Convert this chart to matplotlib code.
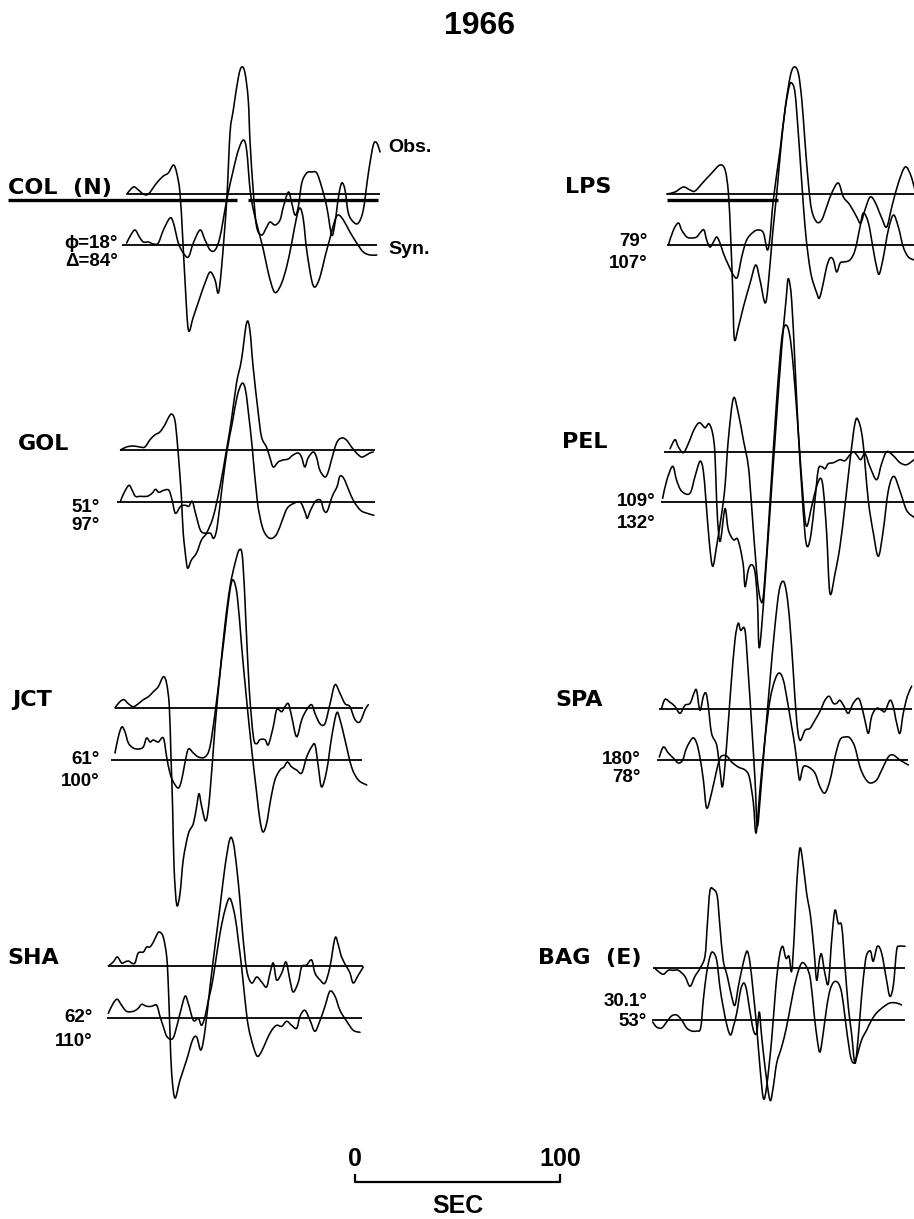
import matplotlib
matplotlib.use("Agg")
import matplotlib.pyplot as plt
from matplotlib.path import Path
from matplotlib.patches import PathPatch

# ---------------- data: time (s) and amplitude (relative units) ----------------
col_obs_t = [0, 3.3, 5.7, 8.1, 10.6, 14.6, 17.9, 20.3, 22.8, 24.4, 26.0, 27.3, 28.5, 30.1, 32.5, 35.8, 38.2, 40.7, 43.1, 44.7,
             46.3, 48.8, 50.4, 52.0, 54.5, 56.1, 57.7, 59.3, 60.2, 61.8, 63.4, 65.9, 68.3, 69.9, 72.4, 74.8, 76.4, 78.9, 80.5,
             82.1, 83.7, 85.4, 87.8, 90.2, 92.7, 95.1, 97.6, 100, 101.6, 103.3, 104.9, 106.5, 108.1, 110.6, 113.0, 115.4,
             117.9, 120.3, 122.0, 123.6]
col_obs_a = [0, 7, 4, 0, 0, 11, 18, 21, 29, 21, 1, -43, -89, -136, -123, -103, -89, -78, -86, -99,
             -73, -6, 61, 84, 117, 127, 121, 94, 51, 1, -33, -41, -33, -28, -31, -26, -13, 2, -9,
             -21, -13, 11, 21, 22, 21, 7, -13, -41, -29, -3, 11, 4, -19, -28, -29, -16,
             21, 49, 51, 42]
col_syn_t = [0, 2.0, 4.1, 6.2, 8.1, 10.6, 13.0, 15.4, 17.9, 21.1, 22.8, 25.2, 27.6, 30.1, 32.5, 35.8, 38.2, 40.7, 43.1,
             45.5, 48.8, 52.0, 54.5, 56.9, 58.5, 60.2, 61.8, 64.2, 66.7, 69.1, 71.5, 73.2, 75.6, 78.0, 80.5, 82.9, 84.6,
             86.2, 87.8, 90.2, 91.9, 94.3, 96.7, 99.2, 101.6, 103.3, 105.7, 108.9, 112.2, 115.4, 118.7, 122.0]
col_syn_a = [2, 10, 15, 8, 3, 3, 1, 2, 15, 27, 22, 2, -8, -12, 2, 15, 5, -5, -5,
             8, 45, 75, 95, 105, 95, 55, 35, 15, -5, -28, -45, -47, -38, -22, 2, 28, 37,
             25, -5, -35, -42, -32, -12, 7, 25, 30, 25, 13, 2, -7, -10, -10]

gol_obs_t = [0, 2.9, 6.2, 9.4, 11.9, 14.3, 16.7, 19.2, 21.6, 23.3, 24.9, 26.5, 27.6, 28.9, 29.8, 30.6, 32.2, 33.0, 34.6,
             37.1, 39.5, 42.0, 45.2, 48.5, 51.7, 54.1, 56.6, 59.0, 61.5, 63.1, 64.7, 67.2, 68.8, 71.2, 72.8, 74.5, 76.9,
             79.3, 81.8, 84.2, 86.7, 88.3, 89.9, 91.5, 94.0, 95.6, 97.2, 99.7, 101.3, 102.9, 105.4, 107.8, 110.2, 112.7,
             115.1, 117.6, 120.0, 121.6, 123.3]
gol_obs_a = [0, 3, 4, 3, 3, 10, 15, 18, 25, 32, 36, 30, 10, -23, -50, -83, -113, -118, -110,
             -103, -90, -83, -67, -37, 0, 30, 67, 90, 127, 120, 83, 37, 13, 3, -7, -17, -12,
             -10, -9, -5, -3, -7, -17, -8, -2, -7, -20, -27, -22, -10, 7, 12, 10, 3,
             -3, -7, -5, -3, -2]
gol_syn_t = [0, 1.6, 4.1, 5.7, 7.3, 9.8, 13.0, 15.4, 17.1, 18.7, 21.1, 23.6, 25.2, 26.8, 29.3, 31.7, 33.3, 35.0, 36.6,
             39.0, 41.5, 43.9, 45.5, 47.2, 49.6, 52.0, 54.5, 56.9, 59.3, 61.0, 62.6, 64.2, 66.7, 69.1, 71.5, 74.0, 76.4,
             78.9, 81.3, 84.6, 87.8, 90.2, 91.1, 92.7, 95.1, 97.6, 99.2, 100.8, 103.3, 105.7, 107.0, 108.9, 111.4, 113.8,
             117.1, 120.3, 123.6]
gol_syn_a = [1, 9, 17, 12, 6, 6, 6, 9, 13, 10, 12, 12, 2, -11, -4, -3, -4, 1, -11,
             -28, -31, -31, -36, -24, 16, 52, 79, 106, 119, 112, 86, 56, 2, -24, -34, -36, -31,
             -18, -6, -1, 0, -11, -16, -8, 1, 2, -8, -9, 6, 16, 26, 24, 12, 1,
             -8, -11, -13]

jct_obs_t = [0, 2.4, 4.4, 6.5, 8.9, 11.4, 13.8, 16.3, 18.7, 21.1, 23.6, 25.2, 26.5, 27.3, 28.1, 28.8, 30.1, 31.7, 33.3,
             35.8, 38.2, 39.8, 41.0, 42.3, 44.4, 46.3, 48.8, 51.2, 53.7, 56.1, 58.5, 60.7, 62.3, 63.9, 65.5, 67.5, 69.1,
             70.7, 73.2, 74.8, 77.2, 78.9, 81.3, 82.9, 84.6, 86.2, 88.6, 91.1, 93.5, 95.9, 97.6, 100.0, 102.4, 104.9,
             107.3, 109.8, 112.2, 114.6, 117.1, 119.5, 122.0, 123.6]
jct_obs_a = [0, 6, 8, 4, 1, 4, 8, 11, 16, 21, 31, 24, 1, -49, -99, -159, -197, -186, -152,
             -126, -116, -99, -86, -99, -113, -86, -19, 34, 84, 121, 144, 158, 148, 84, 18, -29, -36,
             -32, -32, -37, -19, -2, -4, 1, 4, -9, -29, -12, -2, 3, -6, -16, -16, 4,
             23, 14, 4, 1, -12, -14, -2, 3]
jct_syn_t = [0, 1.6, 3.3, 4.9, 6.5, 8.9, 11.4, 13.8, 15.4, 17.1, 18.7, 21.1, 23.6, 25.2, 26.8, 28.5, 30.9, 32.5, 34.1,
             35.8, 38.2, 40.7, 43.9, 46.3, 48.8, 51.2, 53.7, 56.1, 57.7, 59.7, 61.8, 64.2, 66.7, 69.1, 70.7, 72.2, 74.0,
             75.9, 78.0, 80.5, 82.4, 84.1, 86.2, 88.6, 91.1, 93.5, 95.9, 97.6, 99.2, 100.8, 103.3, 105.7, 108.1, 109.8,
             112.2, 115.4, 118.7, 122.8]
jct_syn_a = [7, 23, 33, 28, 17, 12, 11, 13, 22, 18, 20, 18, 22, 3, -13, -22, -28, -20, -3,
             11, 7, 3, 3, 13, 47, 87, 130, 170, 180, 163, 113, 60, 10, -33, -60, -72, -63,
             -40, -20, -10, -7, -2, -7, -10, -13, 3, 13, 15, -7, -27, -10, 23, 47, 40,
             20, -7, -20, -25]

sha_obs_t = [0, 2.4, 4.4, 6.5, 8.1, 9.8, 11.4, 13.0, 14.6, 17.1, 18.7, 20.3, 22.0, 23.6, 24.9, 26.8, 28.5, 29.3, 30.1,
             30.9, 32.5, 35.0, 38.2, 41.1, 43.1, 45.2, 47.2, 49.6, 52.0, 54.5, 56.9, 59.3, 61.0, 62.6, 64.2, 65.5, 67.5,
             69.9, 72.4, 74.8, 77.2, 78.9, 80.5, 82.1, 84.6, 86.7, 88.6, 90.2, 92.7, 94.3, 96.7, 99.2, 100.8, 103.3,
             105.7, 108.1, 110.6, 112.2, 113.8, 116.3, 117.9, 119.5, 122.0, 124.4]
sha_obs_a = [0, 4, 9, 3, 4, 5, 3, 3, 13, 14, 19, 19, 24, 31, 34, 29, 9, -21, -67,
             -107, -132, -114, -94, -74, -71, -84, -64, -21, 19, 59, 99, 127, 123, 99, 66, 33, -4,
             -17, -11, -16, -21, -7, 3, -14, -7, 4, -14, -26, -16, -1, 1, 6, -7, -14,
             -17, -1, 28, 21, 9, -1, -7, -17, -9, -1]
sha_syn_t = [0, 2.4, 4.4, 6.5, 8.9, 12.2, 14.6, 16.3, 18.7, 21.1, 23.6, 25.2, 26.8, 28.5, 30.9, 32.5, 35.0, 37.4, 39.0,
             41.5, 43.9, 45.5, 47.2, 48.8, 50.4, 52.0, 54.5, 56.9, 59.3, 61.8, 63.4, 65.0, 66.7, 68.3, 70.7, 72.7, 74.8,
             77.2, 79.7, 82.1, 84.6, 87.0, 89.4, 91.9, 93.5, 95.9, 98.4, 100.8, 103.3, 105.7, 108.1, 110.6, 113.0, 116.3,
             119.5, 122.8]
sha_syn_a = [5, 15, 19, 13, 7, 7, 10, 14, 12, 12, 13, 2, -8, -18, -21, -15, 5, 22, 15,
             -2, 0, -7, 2, 18, 32, 52, 85, 108, 120, 102, 78, 52, 18, -8, -28, -38, -33,
             -22, -12, -7, -8, -3, -7, -10, 2, 8, -2, -13, -2, 12, 27, 22, 8, -3,
             -12, -14]

lps_obs_t = [0, 4.1, 8.1, 11.4, 13.8, 17.9, 22.0, 26.0, 28.5, 30.1, 31.2, 32.2, 33.0, 35.0, 37.4, 40.7, 43.4, 45.5, 48.0,
             49.6, 51.7, 53.7, 55.6, 57.7, 60.2, 62.1, 64.2, 65.9, 67.5, 69.1, 70.7, 73.2, 75.6, 78.0, 80.5, 83.7, 86.2,
             89.4, 92.7, 94.6, 96.7, 99.2, 101.6, 104.9, 107.3, 109.8, 113.0, 116.3, 119.0, 121.1]
lps_obs_a = [0, 2, 7, 4, 3, 12, 21, 29, 24, 1, -43, -96, -145, -133, -113, -89, -71, -86, -109,
             -89, -39, 1, 44, 84, 117, 127, 121, 94, 51, 11, -16, -28, -26, -13, 1, 11, -3,
             -11, -23, -29, -16, -3, -8, -24, -33, -13, 11, 27, 19, 4]
lps_syn_t = [0.8, 3.3, 5.7, 7.3, 9.8, 12.2, 14.6, 16.6, 18.2, 19.5, 21.1, 22.8, 24.4, 26.0, 27.6, 30.1, 32.5, 34.5, 36.6,
             39.0, 42.3, 44.7, 47.2, 49.1, 50.4, 52.0, 55.3, 57.7, 59.7, 61.0, 62.6, 64.2, 65.9, 67.5, 69.1, 70.7, 73.2,
             74.5, 76.4, 78.0, 79.7, 81.3, 82.9, 84.6, 86.2, 89.4, 91.9, 94.3, 95.9, 98.4, 100.8, 102.4, 103.7, 105.7,
             108.1, 110.6, 113.0, 115.4, 117.9, 120.7]
lps_syn_a = [0, 15, 22, 15, 8, 7, 8, 13, 15, 5, -2, 3, 8, 2, -8, -20, -30, -32, -12,
             5, 13, 15, 12, -5, 8, 45, 95, 135, 158, 162, 152, 112, 62, 18, -12, -32, -48,
             -53, -38, -22, -13, -15, -27, -18, -17, -15, -5, 18, 32, 22, -5, -22, -29, -12,
             15, 30, 18, -2, -12, -15]

pel_obs_t = [4.9, 7.3, 8.9, 11.4, 13.8, 16.6, 19.2, 22.0, 23.9, 25.7, 26.8, 27.6, 28.6, 29.6, 31.7, 33.3, 35.8, 37.7, 39.3,
             40.7, 41.5, 43.1, 44.7, 46.3, 47.5, 48.3, 49.6, 52.0, 54.5, 56.9, 59.3, 61.5, 62.6, 64.2, 65.9, 67.5, 69.1,
             70.7, 72.0, 73.7, 75.6, 77.2, 78.9, 80.5, 82.1, 84.6, 87.8, 90.2, 92.7, 94.3, 95.9, 97.9, 100.0, 102.4,
             105.7, 108.1, 110.6, 113.8, 117.1, 120.3, 123.9]
pel_obs_a = [3, 12, 5, -1, 8, 22, 29, 24, 28, 18, -2, -48, -82, -88, -57, -78, -88, -87, -98,
             -115, -135, -118, -113, -120, -148, -195, -175, -108, -35, 35, 102, 152, 173, 152, 85, 18, -35,
             -82, -95, -82, -48, -18, -15, -17, -12, -11, -8, -9, -3, 0, -3, -8, -2, -15,
             -28, -12, 0, -4, -11, -13, -8]
pel_syn_t = [1.3, 3.3, 6.2, 8.1, 10.6, 14.6, 17.1, 19.5, 21.1, 22.4, 24.1, 25.7, 27.6, 30.1, 31.7, 33.3, 35.8, 38.2, 40.7,
             43.1, 44.7, 47.2, 49.1, 50.7, 53.7, 56.9, 59.3, 61.1, 63.1, 65.0, 67.5, 69.9, 71.5, 74.0, 76.4, 78.4, 79.7,
             81.3, 82.9, 85.4, 87.8, 90.2, 92.7, 95.1, 96.7, 98.9, 101.6, 104.1, 106.5, 108.9, 111.4, 114.1, 117.1, 120.3,
             123.9]
pel_syn_a = [4, 22, 36, 22, 11, 9, 26, 41, 32, 2, -41, -64, -44, -11, 16, 62, 104, 89, 62,
             36, -4, -71, -98, -88, 2, 102, 162, 177, 169, 136, 69, 2, -24, -4, 16, 24, 12,
             -31, -91, -71, -44, -4, 42, 79, 82, 62, 2, -31, -54, -28, 12, 26, 11, -8,
             -15]

spa_obs_t = [1.1, 2.8, 5.2, 7.6, 10.1, 12.5, 15.0, 16.9, 18.2, 19.8, 21.5, 22.8, 23.9, 25.5, 28.0, 29.6, 30.9, 32.8, 34.8,
             36.9, 38.5, 39.7, 41.8, 43.4, 45.0, 46.7, 47.8, 49.4, 51.5, 54.0, 56.4, 58.5, 60.5, 62.1, 63.7, 65.4, 67.0,
             68.6, 71.1, 73.5, 75.9, 78.4, 80.8, 82.9, 84.9, 86.5, 88.1, 90.1, 92.2, 94.6, 97.1, 98.7, 100.3, 102.0,
             103.6, 106.0, 108.5, 110.1, 112.5, 114.1, 115.8, 117.4, 119.0, 121.0, 123.1]
spa_obs_a = [1, 10, 7, 3, -4, 4, 6, 16, 19, -1, 13, 16, 3, -24, -36, -61, -77, -37, 19,
             69, 86, 79, 79, 36, -14, -71, -117, -84, -31, 29, 83, 119, 128, 116, 86, 36, -11,
             -31, -21, -19, -11, -2, 9, 13, 6, 6, 9, 3, -4, 6, 11, 3, -11, -24,
             -7, 1, -1, -2, 9, 3, -14, -24, -4, 13, 23]
spa_syn_t = [0, 2.0, 4.4, 6.8, 9.3, 11.4, 13.3, 16.3, 18.2, 19.8, 21.5, 23.1, 25.5, 28.0, 29.9, 32.8, 35.3, 38.5, 41.8,
             43.9, 45.9, 47.2, 49.1, 51.5, 54.0, 56.4, 58.5, 60.5, 62.4, 64.6, 66.2, 67.8, 68.6, 70.2, 72.7, 75.9, 78.4,
             80.8, 83.3, 85.7, 88.1, 90.6, 93.0, 95.4, 97.9, 100.3, 102.8, 106.0, 108.5, 111.7, 114.1, 117.4, 121.5]
spa_syn_a = [3, 13, 7, 2, -3, 0, 12, 22, 17, 3, -20, -48, -33, -10, 3, 4, -2, -7, -10,
             -17, -43, -73, -30, 20, 60, 80, 87, 80, 60, 33, 13, -13, -20, -7, -7, -13, -27,
             -33, -20, 3, 20, 23, 22, 13, -7, -18, -23, -20, -10, 3, 5, 0, -5]

bag_obs_t = [0.8, 2.4, 4.9, 7.3, 9.8, 12.2, 15.4, 17.9, 20.3, 22.8, 25.2, 26.3, 27.6, 29.3, 31.2, 32.5, 34.1, 36.1, 38.2,
             39.8, 41.5, 43.1, 44.7, 45.9, 47.2, 48.8, 50.4, 52.0, 53.7, 55.3, 57.7, 59.8, 61.5, 63.1, 64.7, 66.2, 67.5,
             68.8, 69.9, 71.5, 73.2, 74.8, 76.7, 78.4, 79.7, 81.0, 82.1, 83.7, 85.4, 87.0, 88.6, 90.2, 91.9, 93.5, 95.1,
             96.7, 98.4, 100.0, 101.6, 103.3, 104.4, 106.0, 107.3, 109.3, 111.4, 113.8, 115.4, 117.1, 118.7, 120.0, 122.8]
bag_obs_a = [0, -3, -6, -2, -2, -2, -8, -18, -8, 0, 12, 42, 77, 79, 72, 42, 8, -8, -28,
             -37, -18, -2, 12, 17, 5, -25, -58, -98, -130, -118, -72, -18, 12, 22, 10, 12, -3,
             35, 82, 120, 102, 75, 52, 18, -12, 8, 14, -5, -15, 28, 58, 45, 42, 2, -38,
             -65, -95, -68, -28, 5, 15, 17, 7, 22, 15, -12, -28, -17, 18, 22, 22]
bag_syn_t = [-0.3, 1.6, 4.1, 6.5, 8.9, 11.4, 13.8, 16.3, 18.7, 21.1, 23.1, 24.4, 26.0, 27.6, 28.9, 30.9, 32.5, 34.1, 36.1,
             37.7, 39.0, 40.7, 42.6, 44.2, 45.5, 46.8, 48.8, 50.4, 51.7, 52.7, 54.5, 56.9, 58.5, 60.2, 62.6, 65.0, 67.5,
             69.9, 72.4, 74.8, 76.7, 78.4, 80.0, 81.3, 82.9, 84.6, 86.2, 88.1, 90.2, 91.9, 93.5, 95.9, 97.6, 99.2, 101.6,
             104.1, 106.5, 108.9, 112.2, 115.4, 118.7, 121.1]
bag_syn_a = [-2, -7, -8, -2, 4, 5, 0, -8, -11, -11, -8, 20, 47, 63, 68, 60, 33, 13, -7,
             -15, -7, 7, 30, 37, 30, 13, -10, -13, 8, -13, -47, -80, -67, -43, -27, -7, 20,
             43, 57, 53, 40, 7, -20, -32, -13, 13, 30, 38, 37, 27, 3, -33, -43, -37, -20,
             -10, 0, 7, 13, 17, 17, 15]

stations = ["COL  (N)", "GOL", "JCT", "SHA", "LPS", "PEL", "SPA", "BAG  (E)"]
azimuths = ["\u03d5=18\u00b0", "51\u00b0", "61\u00b0", "62\u00b0", "79\u00b0", "109\u00b0", "180\u00b0", "30.1\u00b0"]
distances = ["\u0394=84\u00b0", "97\u00b0", "100\u00b0", "110\u00b0", "107\u00b0", "132\u00b0", "78\u00b0", "53\u00b0"]
title_text = "1966"
scale_seconds = [0, 100]
scale_unit = "SEC"

obs_t = [col_obs_t, gol_obs_t, jct_obs_t, sha_obs_t, lps_obs_t, pel_obs_t, spa_obs_t, bag_obs_t]
obs_a = [col_obs_a, gol_obs_a, jct_obs_a, sha_obs_a, lps_obs_a, pel_obs_a, spa_obs_a, bag_obs_a]
syn_t = [col_syn_t, gol_syn_t, jct_syn_t, sha_syn_t, lps_syn_t, pel_syn_t, spa_syn_t, bag_syn_t]
syn_a = [col_syn_a, gol_syn_a, jct_syn_a, sha_syn_a, lps_syn_a, pel_syn_a, spa_syn_a, bag_syn_a]

# ---------------- layout (pixel space) ----------------
W, H = 914, 1219
PX_PER_SEC = 2.05
layout = [
    dict(x0=126.7, yo=194.0, ys=245.0, lo=(126.7, 380), ls=(121.7, 377), lab=(8, 188), ang=(118, 244, 262)),
    dict(x0=120.5, yo=450.0, ys=502.3, lo=(120, 375), ls=(117, 375), lab=(18, 444), ang=(100, 507, 526)),
    dict(x0=115.0, yo=707.7, ys=760.0, lo=(115, 363), ls=(111, 362), lab=(12, 700), ang=(100, 759, 781)),
    dict(x0=108.3, yo=966.0, ys=1018.3, lo=(108, 363), ls=(107, 362), lab=(7, 958), ang=(93, 1017, 1041)),
    dict(x0=666.7, yo=194.0, ys=245.0, lo=(666.7, 914), ls=(666.7, 914), lab=(565, 187), ang=(647, 242, 264)),
    dict(x0=660.0, yo=451.7, ys=502.3, lo=(664, 914), ls=(660.7, 914), lab=(562, 442), ang=(656, 502, 524)),
    dict(x0=659.3, yo=709.3, ys=760.0, lo=(659, 911.7), ls=(656.7, 908), lab=(555, 700), ang=(641, 759, 778)),
    dict(x0=653.3, yo=968.3, ys=1020.0, lo=(652.7, 905), ls=(651.7, 905), lab=(538, 958), ang=(647, 1002, 1022)),
]

fig = plt.figure(figsize=(W / 100, H / 100), dpi=100)
ax = fig.add_axes([0, 0, 1, 1])
ax.set_xlim(0, W)
ax.set_ylim(H, 0)
ax.axis("off")

LW_TRACE = 1.15
LW_BASE = 1.3
LBL = dict(family=["DejaVu Sans"], fontweight="bold", color="black")
NUM = dict(family=["Liberation Sans", "DejaVu Sans"], fontweight="bold", color="black")


def smooth_trace(xs, ys):
    """Draw a trace through its digitised samples as a smooth Bezier path."""
    n = len(xs)
    verts = [(xs[0], ys[0])]
    codes = [Path.MOVETO]
    for i in range(n - 1):
        p0 = (xs[max(i - 1, 0)], ys[max(i - 1, 0)])
        p1 = (xs[i], ys[i])
        p2 = (xs[i + 1], ys[i + 1])
        p3 = (xs[min(i + 2, n - 1)], ys[min(i + 2, n - 1)])
        c1 = (p1[0] + (p2[0] - p0[0]) / 6.0, p1[1] + (p2[1] - p0[1]) / 6.0)
        c2 = (p2[0] - (p3[0] - p1[0]) / 6.0, p2[1] - (p3[1] - p1[1]) / 6.0)
        verts += [c1, c2, p2]
        codes += [Path.CURVE4, Path.CURVE4, Path.CURVE4]
    patch = PathPatch(Path(verts, codes), facecolor="none", edgecolor="black",
                      lw=LW_TRACE, joinstyle="round", capstyle="round")
    ax.add_patch(patch)


for i, L in enumerate(layout):
    ax.plot(L["lo"], [L["yo"], L["yo"]], color="black", lw=LW_BASE, solid_capstyle="butt")
    ax.plot(L["ls"], [L["ys"], L["ys"]], color="black", lw=LW_BASE, solid_capstyle="butt")
    xo = [L["x0"] + t * PX_PER_SEC for t in obs_t[i]]
    yo = [L["yo"] - a for a in obs_a[i]]
    xs = [L["x0"] + t * PX_PER_SEC for t in syn_t[i]]
    ys = [L["ys"] - a for a in syn_a[i]]
    smooth_trace(xo, yo)
    smooth_trace(xs, ys)
    ax.text(L["lab"][0], L["lab"][1], stations[i], fontsize=16, ha="left", va="center", **LBL)
    ax.text(L["ang"][0], L["ang"][1], azimuths[i], fontsize=13.5, ha="right", va="center", **NUM)
    ax.text(L["ang"][0], L["ang"][2], distances[i], fontsize=13.5, ha="right", va="center", **NUM)

# thick underline rules at the obs level (COL and LPS)
ax.plot([8, 237], [200, 200], color="black", lw=2.4, solid_capstyle="butt")
ax.plot([248, 378], [200, 200], color="black", lw=2.4, solid_capstyle="butt")
ax.plot([666.7, 778], [200, 200], color="black", lw=2.4, solid_capstyle="butt")

ax.text(388, 147, "Obs.", fontsize=14, ha="left", va="center", **NUM)
ax.text(388, 250, "Syn.", fontsize=14, ha="left", va="center", **NUM)

ax.text(479, 26, title_text, fontsize=23, ha="center", va="center", **NUM)

SB_X0, SB_Y = 355, 1182
sx = [SB_X0 + s * PX_PER_SEC for s in scale_seconds]
ax.plot([sx[0], sx[0], sx[1], sx[1]], [SB_Y - 7, SB_Y, SB_Y, SB_Y - 7], color="black", lw=1.6)
for s, x in zip(scale_seconds, sx):
    ax.text(x, 1159, str(s), fontsize=18, ha="center", va="center", **NUM)
ax.text((sx[0] + sx[1]) / 2, 1206, scale_unit, fontsize=18, ha="center", va="center", **NUM)

fig.savefig("out.png", dpi=100, facecolor="white")
